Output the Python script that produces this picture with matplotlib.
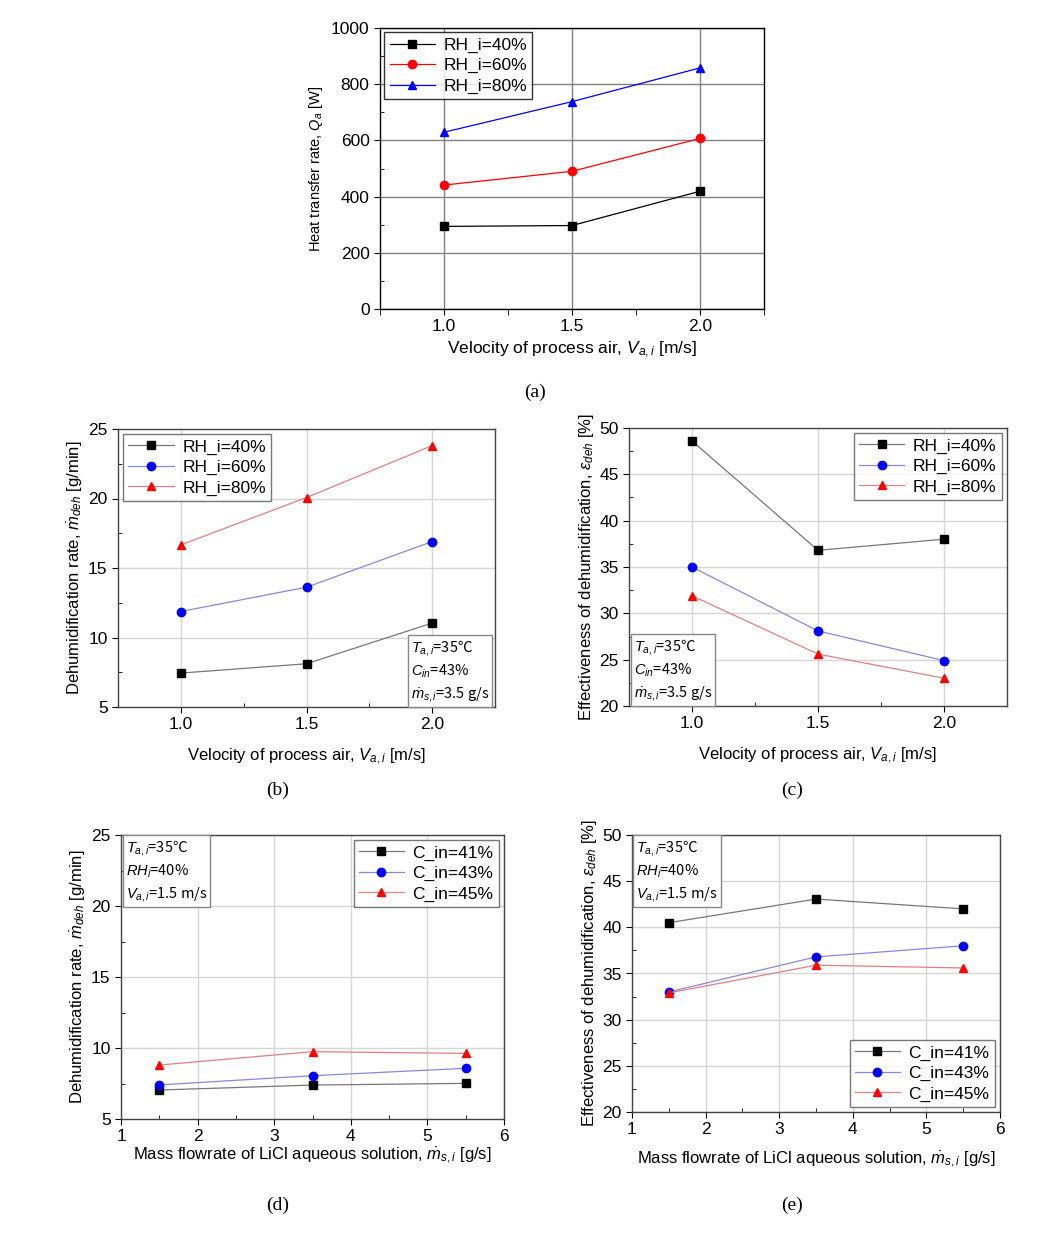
import numpy as np
import matplotlib.pyplot as plt

plt.rcParams['font.family'] = ['Liberation Sans', 'DejaVu Sans', 'Noto Sans CJK SC']
plt.rcParams['mathtext.fontset'] = 'custom'
plt.rcParams['mathtext.rm'] = 'Liberation Sans'
plt.rcParams['mathtext.it'] = 'Liberation Sans:italic'

# data
velocity = [1.0, 1.5, 2.0]
flowrate = [1.5, 3.5, 5.5]
rh_labels = ['RH_i=40%', 'RH_i=60%', 'RH_i=80%']
c_labels = ['C_in=41%', 'C_in=43%', 'C_in=45%']

q_rh40 = [294, 297, 419]
q_rh60 = [441, 490, 607]
q_rh80 = [629, 738, 858]

mdeh_rh40 = [7.44, 8.11, 11.04]
mdeh_rh60 = [11.87, 13.62, 16.9]
mdeh_rh80 = [16.66, 20.07, 23.8]

eff_rh40 = [48.6, 36.8, 38.0]
eff_rh60 = [35.0, 28.1, 24.9]
eff_rh80 = [31.9, 25.6, 23.0]

mdeh_c41 = [7.04, 7.39, 7.51]
mdeh_c43 = [7.4, 8.05, 8.57]
mdeh_c45 = [8.8, 9.74, 9.62]

eff_c41 = [40.5, 43.06, 42.0]
eff_c43 = [33.0, 36.8, 38.0]
eff_c45 = [32.9, 35.9, 35.6]

W, H = 1046, 1238
fig = plt.figure(figsize=(W / 100, H / 100), dpi=100)


def box(l, r, t, b):
    return [l / W, 1 - b / H, (r - l) / W, (b - t) / H]


xl_vel = r'Velocity of process air, $V_{a,i}$ [m/s]'
xl_mass = r'Mass flowrate of LiCl aqueous solution, $\dot{m}_{s,i}$ [g/s]'
yl_mdeh = r'Dehumidification rate, $\dot{m}_{deh}$ [g/min]'
yl_eff = r'Effectiveness of dehumidification, $\varepsilon_{deh}$ [%]'

markers = ['s', 'o', '^']
mk_colors = ['black', 'red', 'blue']


def style(ax, gridcol, spinecol):
    ax.grid(True, color=gridcol, linewidth=1.0)
    ax.set_axisbelow(True)
    for s in ax.spines.values():
        s.set_color(spinecol)
        s.set_linewidth(1.0)
    ax.tick_params(which='both', labelsize=12.5, colors='black')
    ax.tick_params(which='major', direction='out', length=4)
    ax.tick_params(which='minor', direction='in', length=3)


# (a)
ax = fig.add_axes(box(380, 764, 28, 309))
for ys, lab, m, c in zip([q_rh40, q_rh60, q_rh80], rh_labels, markers, mk_colors):
    ax.plot(velocity, ys, color=c, lw=0.9, marker=m, ms=6, label=lab)
ax.set_xlim(0.75, 2.25)
ax.set_ylim(0, 1000)
ax.set_xticks(velocity)
ax.set_xticks([0.75, 1.25, 1.75, 2.25], minor=True)
ax.set_yticks(np.arange(0, 1001, 200))
ax.set_yticks(np.arange(100, 1000, 200), minor=True)
ax.set_xticklabels(['1.0', '1.5', '2.0'])
style(ax, '#808080', 'black')
ax.tick_params(axis='x', which='minor', direction='out', length=4)
ax.set_xlabel(xl_vel, fontsize=12.5, labelpad=4)
ax.set_ylabel(r'Heat transfer rate, $Q_a$ [W]', fontsize=10.5)
leg = ax.legend(loc='upper left', fontsize=12.5, frameon=True, fancybox=False,
                borderaxespad=0.25, handlelength=2.6, labelspacing=0.3,
                borderpad=0.3, handletextpad=0.5)
leg.get_frame().set_edgecolor('black')
leg.get_frame().set_linewidth(1.0)
fig.text(535 / W, 1 - 392 / H, '(a)', ha='center', va='center', fontsize=14,
         family='Liberation Serif')

line_colors = ['#777777', '#8888dd', '#e08080']
mk2 = ['black', 'blue', 'red']


def panel(rect, xs, series, labels, xlim, ylim, yticks, yminor, xticks, xminor,
          xlabels, xlabel, ylabel, legloc, note, noteloc, cap, cappos, xpad):
    ax = fig.add_axes(box(*rect))
    for ys, lab, m, lc, mc in zip(series, labels, markers, line_colors, mk2):
        ax.plot(xs, ys, color=lc, lw=0.9, marker=m, ms=6, mfc=mc, mec=mc, label=lab)
    ax.set_xlim(*xlim)
    ax.set_ylim(*ylim)
    ax.set_xticks(xticks)
    ax.set_xticks(xminor, minor=True)
    ax.set_xticklabels(xlabels)
    ax.set_yticks(yticks)
    ax.set_yticks(yminor, minor=True)
    style(ax, '#d6d6d6', '#444444')
    ax.set_xlabel(xlabel, fontsize=12, labelpad=xpad)
    ax.set_ylabel(ylabel, fontsize=12, labelpad=2)
    leg = ax.legend(loc=legloc, fontsize=12.5, frameon=True, fancybox=False,
                    borderaxespad=0.3, handlelength=2.6, labelspacing=0.3,
                    borderpad=0.3, handletextpad=0.5)
    leg.get_frame().set_edgecolor('#555555')
    leg.get_frame().set_linewidth(1.0)
    ha = 'right' if 'right' in noteloc else 'left'
    va = 'bottom' if 'lower' in noteloc else 'top'
    tx = 0.985 if ha == 'right' else 0.012
    ty = 0.012 if va == 'bottom' else 0.988
    ax.text(tx, ty, note, transform=ax.transAxes, ha=ha, va=va, fontsize=10.5,
            linespacing=1.35, multialignment='left', family='Noto Sans CJK KR',
            bbox=dict(boxstyle='square,pad=0.2', fc='white', ec='#888888', lw=1.0))
    fig.text(cappos[0] / W, 1 - cappos[1] / H, cap, ha='center', va='center',
             fontsize=14, family='Liberation Serif')
    return ax


note_air = '$T_{a,i}$=35℃\n$C_{in}$=43%\n$\\dot{m}_{s,i}$=3.5 g/s'
note_sol = '$T_{a,i}$=35℃\n$RH_i$=40%\n$V_{a,i}$=1.5 m/s'

panel((118, 495, 429, 707), velocity, [mdeh_rh40, mdeh_rh60, mdeh_rh80], rh_labels,
      (0.75, 2.25), (5, 25), [5, 10, 15, 20, 25], [7.5, 12.5, 17.5, 22.5],
      velocity, [1.25, 1.75], ['1.0', '1.5', '2.0'], xl_vel, yl_mdeh,
      'upper left', note_air, 'lower right', '(b)', (278, 790), 10)

panel((629, 1007, 428, 706), velocity, [eff_rh40, eff_rh60, eff_rh80], rh_labels,
      (0.75, 2.25), (20, 50), np.arange(20, 51, 5), np.arange(22.5, 50, 5),
      velocity, [1.25, 1.75], ['1.0', '1.5', '2.0'], xl_vel, yl_eff,
      'upper right', note_air, 'lower left', '(c)', (792, 790), 10)

panel((121, 504, 835, 1119), flowrate, [mdeh_c41, mdeh_c43, mdeh_c45], c_labels,
      (1, 6), (5, 25), [5, 10, 15, 20, 25], [7.5, 12.5, 17.5, 22.5],
      [1, 2, 3, 4, 5, 6], np.arange(1.5, 6, 1), ['1', '2', '3', '4', '5', '6'],
      xl_mass, yl_mdeh, 'upper right', note_sol, 'upper left', '(d)', (278, 1205), 1)

panel((632, 1000, 835, 1112), flowrate, [eff_c41, eff_c43, eff_c45], c_labels,
      (1, 6), (20, 50), np.arange(20, 51, 5), np.arange(22.5, 50, 5),
      [1, 2, 3, 4, 5, 6], np.arange(1.5, 6, 1), ['1', '2', '3', '4', '5', '6'],
      xl_mass, yl_eff, 'lower right', note_sol, 'upper left', '(e)', (792, 1205), 9)

fig.savefig('out.png', dpi=100)
